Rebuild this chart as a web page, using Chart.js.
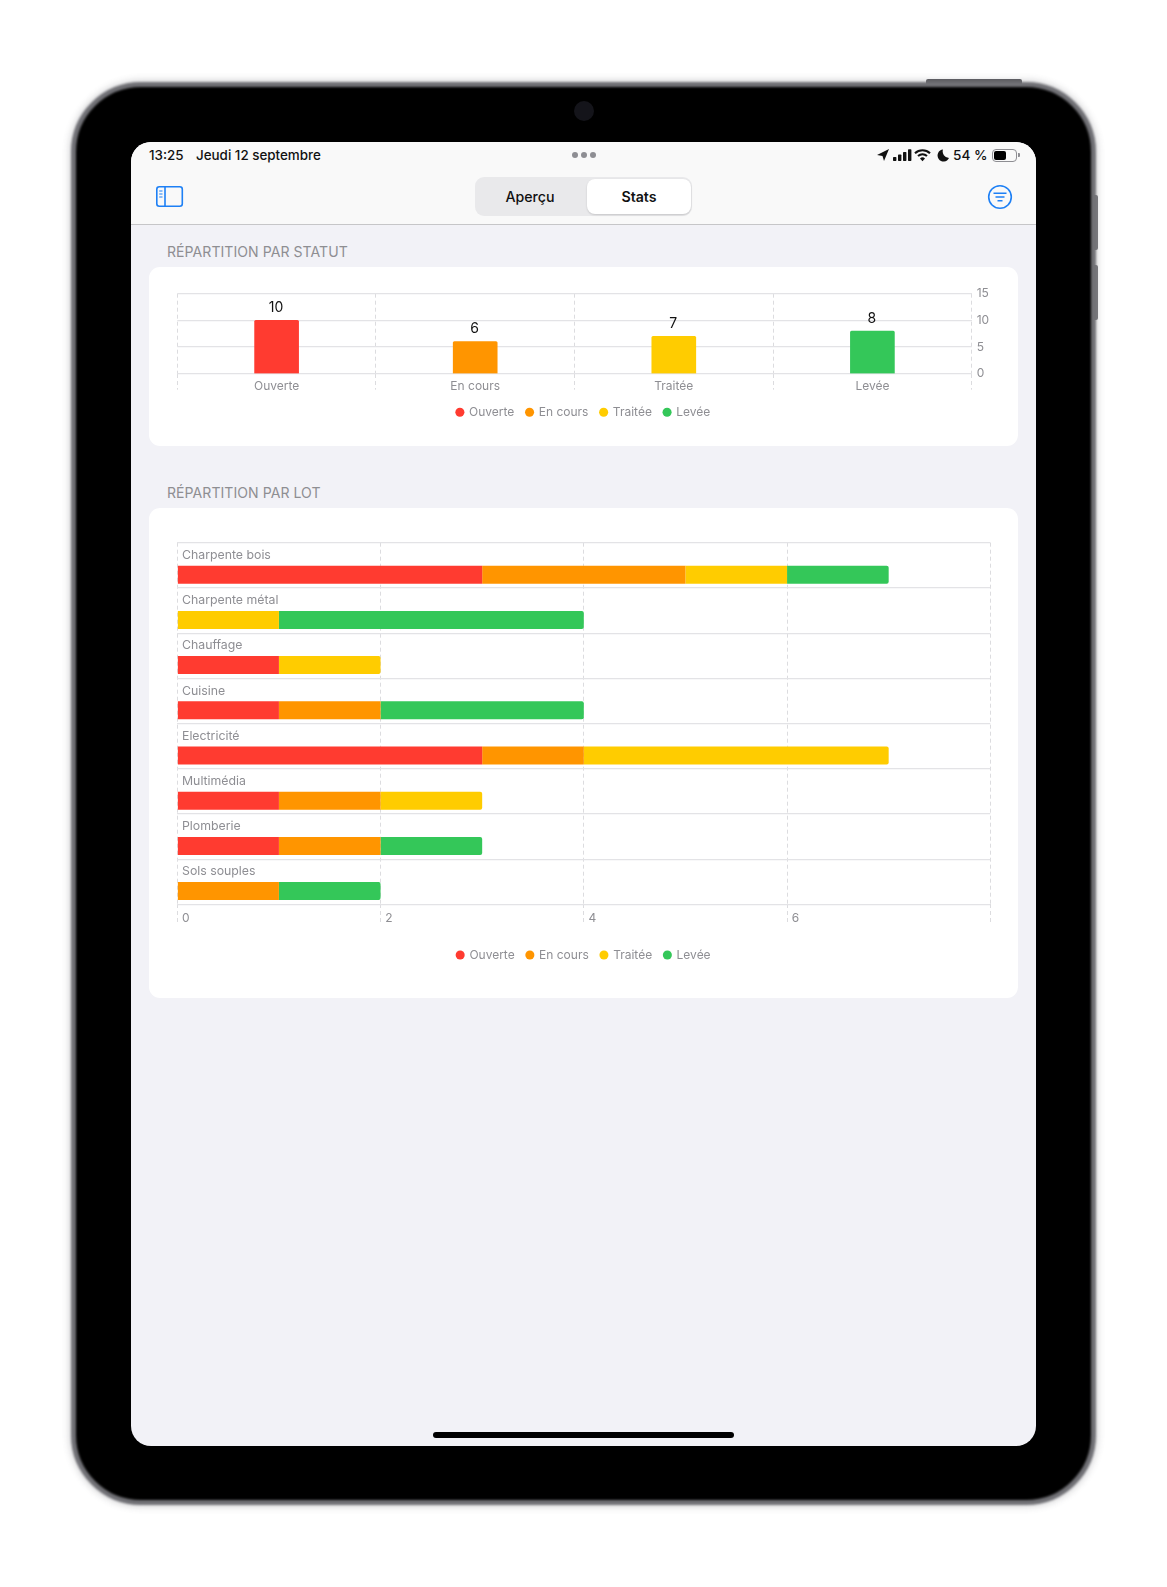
<!DOCTYPE html>
<html lang="fr"><head><meta charset="utf-8">
<script src="https://cdn.jsdelivr.net/npm/chart.js@4"></script>
<style>
html,body{margin:0;padding:0;background:#fff;width:1167px;height:1587px;overflow:hidden;font-family:Inter,"Noto Sans",sans-serif}
div,svg,canvas,span{position:absolute;box-sizing:border-box}
.t{white-space:nowrap;line-height:1}
.title{left:167px;font-size:14.05px;color:#8e8e92;letter-spacing:.05px}
.card{left:149px;width:869px;background:#fff;border-radius:11px}
</style></head><body>
<div style="left:926px;top:79px;width:96px;height:5px;background:#5c5c60;border-radius:2px 2px 0 0;filter:blur(.7px)"></div>
<div style="left:1094px;top:195px;width:3.5px;height:55px;background:#77777c;border-radius:0 2px 2px 0;filter:blur(.6px)"></div>
<div style="left:1094px;top:265px;width:3.5px;height:55px;background:#77777c;border-radius:0 2px 2px 0;filter:blur(.6px)"></div>
<div style="left:71px;top:82px;width:1025px;height:1423px;border-radius:70px;background:#000;border:5px solid #707075;box-shadow:0 0 6px 2px rgba(120,120,125,.3);filter:blur(.8px)"></div>
<div style="left:574px;top:101px;width:20px;height:20px;border-radius:50%;background:#14141a;filter:blur(.6px)"></div>
<div id="screen" style="left:131px;top:142px;width:905px;height:1304px;border-radius:20px;background:#f2f2f7;overflow:hidden">
 <div style="left:0;top:0;width:905px;height:83px;background:#f9f9f9;border-bottom:1px solid #c6c6c8"></div>
</div>
<div class="t" style="left:149px;top:148.5px;font-size:13.4px;font-weight:500;color:#111">13:25</div>
<div class="t" style="left:196px;top:148.5px;font-size:13.4px;font-weight:500;color:#111">Jeudi 12 septembre</div>
<div style="left:572px;top:152px;width:6px;height:6px;border-radius:50%;background:#8e8e93"></div>
<div style="left:581px;top:152px;width:6px;height:6px;border-radius:50%;background:#8e8e93"></div>
<div style="left:590px;top:152px;width:6px;height:6px;border-radius:50%;background:#8e8e93"></div>
<svg style="left:875px;top:147px" width="150" height="18" viewBox="0 0 150 18">
 <path d="M2 8 L14 2 L9 14 L7.5 9 Z" fill="#111"/>
 <rect x="18" y="10" width="3.4" height="4" rx=".7" fill="#111"/><rect x="23" y="7.5" width="3.4" height="6.5" rx=".7" fill="#111"/><rect x="28" y="5" width="3.4" height="9" rx=".7" fill="#111"/><rect x="33" y="2.2" width="3.4" height="11.8" rx=".7" fill="#111"/>
 <path d="M40 6.2 A11 11 0 0 1 55 6.2 M43 9 A7 7 0 0 1 52 9" fill="none" stroke="#111" stroke-width="2.1"/><path d="M45 11.4 A3.6 3.6 0 0 1 50 11.4 L47.5 14.3Z" fill="#111"/>
 <path d="M68 2.5 A6 6 0 1 0 74 11 A6.5 6.5 0 0 1 68 2.5Z" fill="#111"/>
</svg>
<div class="t" style="left:953px;top:148.5px;font-size:13.6px;font-weight:500;color:#111">54 %</div>
<div style="left:992px;top:149px;width:25px;height:13px;border:1px solid #8e8e93;border-radius:4px"></div>
<div style="left:994px;top:151px;width:12px;height:9px;background:#000;border-radius:2px"></div>
<div style="left:1018px;top:153px;width:1.5px;height:4px;background:#8e8e93;border-radius:0 1px 1px 0"></div>
<svg style="left:155px;top:185px" width="30" height="24" viewBox="0 0 30 24"><rect x="1.8" y="1.8" width="25.5" height="19.5" rx="2.5" fill="none" stroke="#1e80f5" stroke-width="1.6"/><path d="M10 1.8V21.3" stroke="#1e80f5" stroke-width="1.6"/><path d="M4.2 6H7.5M4.2 9H7.5M4.2 12H7.5" stroke="#1e80f5" stroke-width="1.2"/></svg>
<div style="left:475px;top:177px;width:217px;height:39px;background:#e9e9eb;border-radius:9px"></div>
<div style="left:587px;top:179px;width:104px;height:35px;background:#fff;border-radius:8px;box-shadow:0 1px 2px rgba(0,0,0,.15)"></div>
<div class="t" style="left:475px;width:110px;top:189.5px;font-size:14.2px;font-weight:500;color:#111;text-align:center">Aperçu</div>
<div class="t" style="left:587px;width:104px;top:189.5px;font-size:14.2px;font-weight:600;color:#111;text-align:center">Stats</div>
<svg style="left:986px;top:183px" width="28" height="28" viewBox="0 0 28 28"><circle cx="14" cy="14" r="11.3" fill="none" stroke="#1e80f5" stroke-width="1.6"/><path d="M7.5 10.3H20.5M9.5 14H18.5M11.5 17.7H16.5" stroke="#1e80f5" stroke-width="1.5"/></svg>
<div class="t title" style="top:245px">RÉPARTITION PAR STATUT</div>
<div class="card" style="top:267px;height:179px"></div>
<div class="t title" style="top:486px">RÉPARTITION PAR LOT</div>
<div class="card" style="top:508px;height:490px"></div>
<div style="left:433px;top:1431.5px;width:301px;height:6px;border-radius:3px;background:#000"></div>
<canvas id="statusChart" style="left:149px;top:267px" width="869" height="179"></canvas>
<canvas id="lotChart" style="left:149px;top:508px" width="869" height="490"></canvas>
<script>
const statuses = ["Ouverte", "En cours", "Traitée", "Levée"];
const statusColors = ["#FF3B30", "#FF9500", "#FFCC00", "#34C759"];
const statusTotals = [10, 6, 7, 8];
const statusTicks = [0, 5, 10, 15];
const lots = ["Charpente bois", "Charpente métal", "Chauffage", "Cuisine", "Electricité", "Multimédia", "Plomberie", "Sols souples"];
const lotOuverte = [3, 0, 1, 1, 3, 1, 1, 0];
const lotEnCours = [2, 0, 0, 1, 1, 1, 1, 1];
const lotTraitee = [1, 1, 1, 0, 3, 1, 0, 0];
const lotLevee = [1, 3, 0, 2, 0, 0, 1, 1];
const lotSeries = [lotOuverte, lotEnCours, lotTraitee, lotLevee];

const GREY = "#8e8e93", LINE = "#e3e3e6", DASH = "#dcdcdf", FONT = "Inter, 'Noto Sans', sans-serif";
Chart.defaults.font.family = FONT;
Chart.defaults.animation = false;

const legendOptions = {
  position: "bottom",
  labels: { usePointStyle: true, pointStyle: "circle", boxWidth: 6.4, boxHeight: 6.4, color: GREY, font: { size: 12 }, padding: 12 }
};
const valueLabels = {
  id: "valueLabels",
  afterDatasetsDraw(chart) {
    const { ctx } = chart;
    ctx.save();
    ctx.font = "14px " + FONT; ctx.fillStyle = "#111"; ctx.textAlign = "center"; ctx.textBaseline = "middle";
    chart.getDatasetMeta(0).data.forEach((bar, i) => ctx.fillText(String(statusTotals[i]), bar.x - 0.5, bar.y - 12.5));
    ctx.restore();
  }
};
new Chart(document.getElementById("statusChart"), {
  type: "bar",
  data: { labels: statuses, datasets: [{ label: "Statut", data: statusTotals, backgroundColor: statusColors, barThickness: 44, borderRadius: { topLeft: 1.5, topRight: 1.5 }, borderSkipped: "bottom" }] },
  plugins: [valueLabels],
  options: {
    responsive: false,
    layout: { padding: { left: 28.3, top: 26.7, right: 28.3, bottom: 17.7 } },
    plugins: {
      tooltip: { enabled: false },
      legend: { ...legendOptions, labels: { ...legendOptions.labels,
        generateLabels: () => statuses.map((s, i) => ({ text: s, fillStyle: statusColors[i], strokeStyle: statusColors[i], lineWidth: 0, pointStyle: "circle", fontColor: GREY, datasetIndex: 0, index: i })) } }
    },
    scales: {
      x: {
        offset: true,
        grid: { offset: true, color: DASH, tickColor: DASH, tickLength: 16, tickBorderDash: [4, 3], lineWidth: 1 },
        border: { display: false, dash: [4, 3] },
        ticks: { color: GREY, font: { size: 12 }, padding: -11, maxRotation: 0 },
        afterFit(s) { s.height = 20.6; }
      },
      y: {
        position: "right", min: 0, max: 15,
        afterBuildTicks(s) { s.ticks = statusTicks.map(v => ({ value: v })); },
        grid: { color: LINE, lineWidth: 1.2, drawTicks: false },
        border: { display: false },
        ticks: { color: GREY, font: { size: 12 }, padding: 5 },
        afterFit(s) { s.width = 18; }
      }
    }
  }
});

new Chart(document.getElementById("lotChart"), {
  type: "bar",
  data: {
    labels: lots,
    datasets: [{ label: "", stack: "rowLabel", data: [] }].concat(statuses.map((s, k) => ({
      label: s, stack: "values", data: lotSeries[k], backgroundColor: statusColors[k],
      categoryPercentage: 0.83, barPercentage: 0.96, borderSkipped: false,
      borderRadius(ctx) {
        const i = ctx.dataIndex;
        const isEnd = lotSeries.slice(k + 1).every(a => !a[i]);
        return isEnd ? { topRight: 2, bottomRight: 2, topLeft: 0, bottomLeft: 0 } : 0;
      }
    })))
  },
  options: {
    indexAxis: "y",
    responsive: false,
    layout: { padding: { left: 28.3, top: 34.7, right: 27.7, bottom: 27 } },
    plugins: {
      tooltip: { enabled: false },
      legend: { ...legendOptions, labels: { ...legendOptions.labels, filter: it => it.text !== "" } }
    },
    scales: {
      x: {
        stacked: true, min: 0, max: 8,
        grid: { color: DASH, tickColor: DASH, tickLength: 18, tickBorderDash: [4, 3], lineWidth: 1 },
        border: { display: false, dash: [4, 3] },
        ticks: { stepSize: 2, color: GREY, font: { size: 12 }, align: "start", labelOffset: 4.7, padding: -11, maxRotation: 0,
          callback: v => v === 8 ? "" : v },
        afterFit(s) { s.height = 32.7; }
      },
      y: {
        stacked: true, offset: true,
        grid: { offset: true, color: LINE, lineWidth: 1.2, drawTicks: false },
        border: { display: false },
        ticks: { mirror: true, color: GREY, font: { size: 12.3 }, padding: 4.7, labelOffset: -10 },
        afterFit(s) { s.width = 0; }
      }
    }
  }
});
</script>
</body></html>
